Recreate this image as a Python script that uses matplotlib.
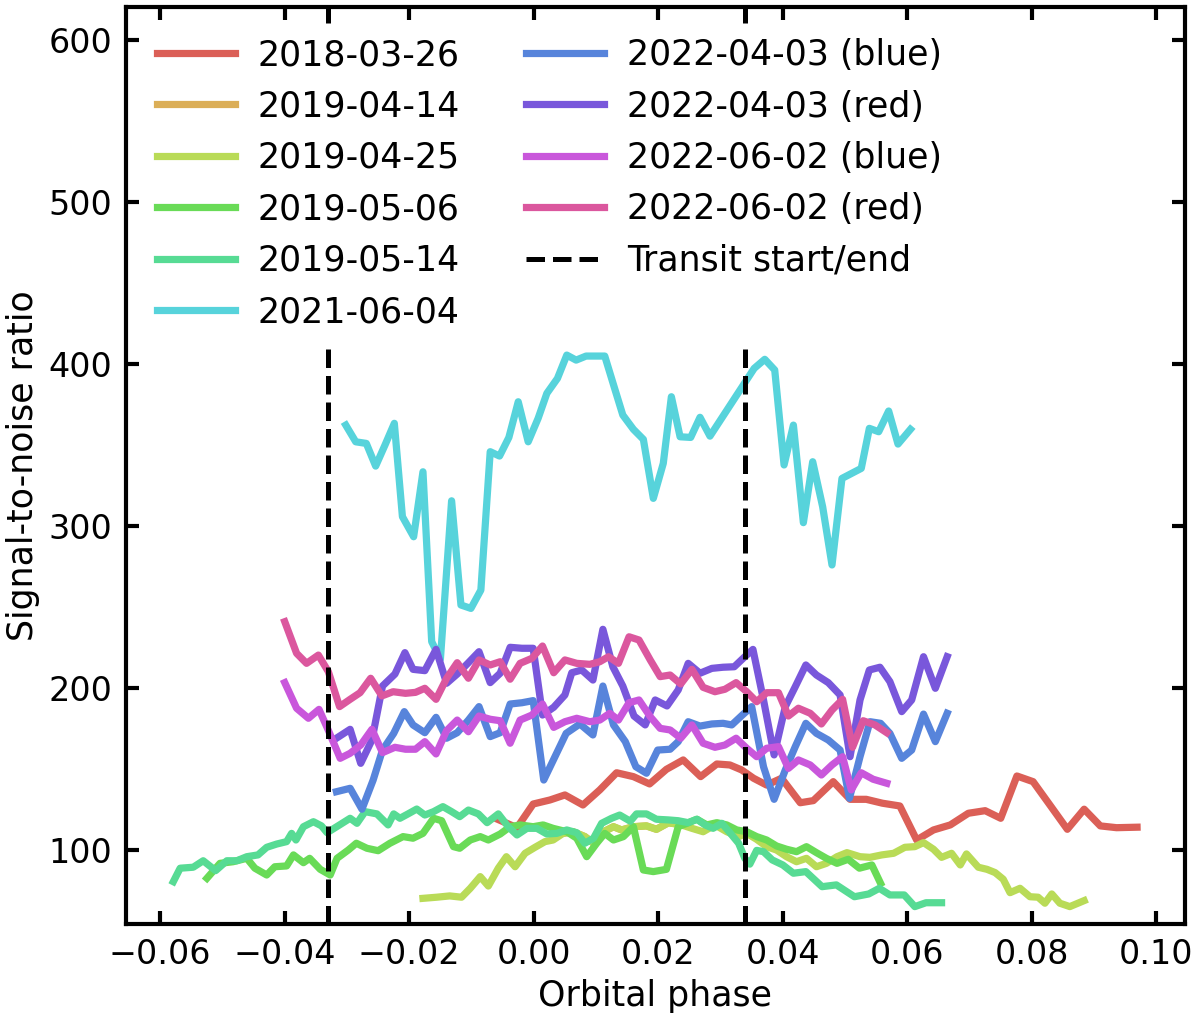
import colorsys
import numpy as np
import matplotlib
matplotlib.use("Agg")
import matplotlib.pyplot as plt

# ---------------- data (orbital phase, S/N) ----------------
labels = ["2018-03-26", "2019-04-14", "2019-04-25", "2019-05-06", "2019-05-14",
          "2021-06-04", "2022-04-03 (blue)", "2022-04-03 (red)",
          "2022-06-02 (blue)", "2022-06-02 (red)"]

snr_2018_03_26 = np.array([
    [-0.0057, 119.0], [-0.0027, 114.0], [-0.0001, 128.6], [0.0026, 131.1], [0.0050, 134.2],
    [0.0079, 128.0], [0.0106, 137.3], [0.0133, 147.9], [0.0160, 145.5], [0.0186, 141.0],
    [0.0213, 150.0], [0.0240, 155.8], [0.0268, 145.5], [0.0294, 153.3], [0.0315, 152.7],
    [0.0334, 149.6], [0.0353, 144.5], [0.0374, 140.3], [0.0398, 144.5], [0.0428, 129.4],
    [0.0449, 130.7], [0.0481, 142.4], [0.0508, 131.5], [0.0534, 131.5], [0.0560, 129.1],
    [0.0588, 127.4], [0.0615, 106.4], [0.0642, 112.6], [0.0669, 115.7], [0.0698, 122.9],
    [0.0725, 124.5], [0.0750, 119.8], [0.0776, 145.9], [0.0802, 142.4], [0.0829, 128.0],
    [0.0857, 113.0], [0.0884, 125.4], [0.0910, 115.1], [0.0936, 114.0], [0.0969, 114.3]])

snr_2019_04_14 = np.array([
    [0.0047, 110.5], [0.0063, 111.5], [0.0082, 108.5], [0.0096, 104.4], [0.0112, 111.5],
    [0.0128, 114.6], [0.0141, 112.6], [0.0160, 114.6], [0.0181, 115.1], [0.0197, 113.0],
    [0.0216, 117.0], [0.0235, 116.0]])

snr_2019_04_25 = np.array([
    [-0.0178, 70.4], [-0.0156, 71.1], [-0.0135, 71.9], [-0.0116, 71.1], [-0.0102, 76.6],
    [-0.0086, 83.8], [-0.0073, 78.0], [-0.0057, 89.0], [-0.0044, 96.1], [-0.0030, 89.9],
    [-0.0014, 98.2], [0.0002, 101.9], [0.0018, 105.4], [0.0031, 106.4], [0.0047, 110.5],
    [0.0063, 111.5], [0.0082, 108.5], [0.0096, 104.4], [0.0112, 111.5], [0.0128, 114.6],
    [0.0141, 112.6], [0.0160, 114.6], [0.0181, 115.1], [0.0197, 113.0], [0.0216, 117.0],
    [0.0235, 116.0], [0.0254, 113.6], [0.0272, 111.5], [0.0291, 115.7], [0.0310, 111.5],
    [0.0329, 108.5], [0.0342, 110.5], [0.0358, 106.8], [0.0374, 102.3], [0.0390, 100.2],
    [0.0406, 96.1], [0.0422, 93.0], [0.0438, 95.1], [0.0454, 89.9], [0.0470, 92.0],
    [0.0487, 96.1], [0.0503, 98.6], [0.0524, 96.1], [0.0540, 95.7], [0.0559, 97.2],
    [0.0578, 98.2], [0.0596, 101.9], [0.0612, 102.3], [0.0626, 104.8], [0.0642, 100.7],
    [0.0655, 95.7], [0.0671, 98.2], [0.0685, 91.0], [0.0695, 97.8], [0.0714, 89.6],
    [0.0728, 88.3], [0.0741, 86.3], [0.0754, 82.2], [0.0765, 73.9], [0.0781, 76.6],
    [0.0797, 71.4], [0.0810, 71.1], [0.0821, 67.4], [0.0832, 73.1], [0.0845, 67.4],
    [0.0861, 65.3], [0.0884, 69.0]])

snr_2019_05_06 = np.array([
    [-0.0525, 82.8], [-0.0504, 92.0], [-0.0483, 93.0], [-0.0461, 95.1], [-0.0448, 89.0],
    [-0.0429, 84.8], [-0.0416, 89.9], [-0.0397, 90.4], [-0.0386, 97.2], [-0.0370, 92.4],
    [-0.0360, 95.1], [-0.0343, 88.3], [-0.0327, 84.8], [-0.0316, 95.1], [-0.0298, 100.2],
    [-0.0285, 104.4], [-0.0268, 101.3], [-0.0250, 99.8], [-0.0231, 104.4], [-0.0210, 108.5],
    [-0.0194, 107.5], [-0.0178, 110.5], [-0.0161, 119.8], [-0.0148, 118.3], [-0.0129, 102.3],
    [-0.0119, 101.3], [-0.0102, 106.4], [-0.0086, 108.5], [-0.0073, 106.4], [-0.0054, 110.1],
    [-0.0038, 114.6], [-0.0022, 115.7], [-0.0001, 114.6], [0.0015, 115.7], [0.0031, 113.6],
    [0.0053, 111.5], [0.0069, 107.5], [0.0085, 96.1], [0.0101, 104.4], [0.0114, 110.5],
    [0.0128, 106.4], [0.0144, 108.5], [0.0160, 114.6], [0.0176, 87.9], [0.0192, 86.9],
    [0.0213, 88.3], [0.0232, 114.6], [0.0246, 116.7], [0.0262, 119.2], [0.0278, 115.7],
    [0.0294, 117.1], [0.0310, 115.7], [0.0326, 112.6], [0.0342, 111.5], [0.0358, 108.5],
    [0.0374, 106.4], [0.0390, 102.7], [0.0406, 100.7], [0.0422, 99.2], [0.0438, 102.3],
    [0.0454, 98.6], [0.0470, 95.1], [0.0487, 92.0], [0.0505, 94.5], [0.0523, 89.0],
    [0.0543, 91.0], [0.0557, 79.7]])

snr_2019_05_14 = np.array([
    [-0.0579, 80.7], [-0.0568, 89.0], [-0.0547, 89.6], [-0.0531, 93.6], [-0.0511, 87.5],
    [-0.0493, 93.6], [-0.0477, 93.6], [-0.0461, 96.1], [-0.0443, 97.2], [-0.0429, 101.9],
    [-0.0413, 103.9], [-0.0397, 105.4], [-0.0389, 110.5], [-0.0382, 106.4], [-0.0370, 114.6],
    [-0.0354, 117.7], [-0.0341, 115.1], [-0.0332, 110.9], [-0.0312, 115.7], [-0.0295, 119.8],
    [-0.0284, 116.7], [-0.0271, 123.9], [-0.0252, 122.5], [-0.0234, 115.7], [-0.0225, 122.5],
    [-0.0215, 119.8], [-0.0202, 122.5], [-0.0188, 125.5], [-0.0175, 121.8], [-0.0161, 123.9],
    [-0.0146, 127.0], [-0.0132, 123.9], [-0.0119, 120.8], [-0.0105, 124.9], [-0.0089, 122.5],
    [-0.0075, 117.1], [-0.0057, 122.5], [-0.0041, 114.6], [-0.0027, 109.5], [-0.0011, 113.6],
    [0.0005, 113.6], [0.0021, 110.1], [0.0037, 110.5], [0.0053, 112.6], [0.0069, 110.9],
    [0.0082, 104.4], [0.0096, 107.5], [0.0109, 116.7], [0.0125, 119.8], [0.0138, 121.8],
    [0.0155, 118.0], [0.0165, 122.5], [0.0181, 122.5], [0.0197, 119.2], [0.0216, 118.8],
    [0.0232, 118.3], [0.0248, 117.1], [0.0262, 119.2], [0.0275, 115.7], [0.0288, 113.6],
    [0.0302, 116.7], [0.0315, 110.9], [0.0329, 104.4], [0.0339, 95.1], [0.0347, 91.5],
    [0.0358, 100.0], [0.0369, 99.2], [0.0383, 94.1], [0.0400, 91.0], [0.0417, 85.9],
    [0.0437, 86.9], [0.0463, 77.6], [0.0486, 78.7], [0.0515, 71.4], [0.0538, 73.1],
    [0.0555, 76.6], [0.0572, 72.5], [0.0595, 72.5], [0.0612, 65.3], [0.0630, 67.7],
    [0.0655, 67.7]])

snr_2021_06_04 = np.array([
    [-0.0302, 362.4], [-0.0286, 352.1], [-0.0269, 351.1], [-0.0254, 337.1], [-0.0239, 350.1],
    [-0.0224, 363.5], [-0.0211, 305.9], [-0.0193, 293.5], [-0.0178, 333.6], [-0.0164, 228.8],
    [-0.0150, 218.0], [-0.0132, 315.7], [-0.0117, 251.4], [-0.0101, 249.3], [-0.0085, 260.6],
    [-0.0070, 346.0], [-0.0055, 343.3], [-0.0040, 354.8], [-0.0025, 376.8], [-0.0009, 352.1],
    [0.0007, 366.6], [0.0021, 382.0], [0.0038, 391.2], [0.0053, 405.6], [0.0068, 402.5],
    [0.0084, 405.0], [0.0099, 405.0], [0.0114, 405.0], [0.0129, 386.1], [0.0143, 368.6],
    [0.0160, 359.8], [0.0176, 353.6], [0.0192, 317.2], [0.0208, 338.8], [0.0221, 379.9],
    [0.0235, 355.2], [0.0252, 354.8], [0.0267, 367.2], [0.0283, 355.6], [0.0354, 397.4],
    [0.0371, 403.0], [0.0387, 396.4], [0.0402, 337.8], [0.0417, 362.4], [0.0433, 302.2],
    [0.0448, 339.8], [0.0464, 312.0], [0.0479, 276.1], [0.0495, 329.5], [0.0526, 335.7],
    [0.0539, 360.4], [0.0554, 358.3], [0.0570, 371.1], [0.0585, 350.7], [0.0605, 359.8]])

snr_2022_04_03_blue = np.array([
    [-0.0317, 136.2], [-0.0295, 138.3], [-0.0276, 125.4], [-0.0258, 143.4], [-0.0243, 161.9],
    [-0.0225, 172.2], [-0.0208, 185.6], [-0.0194, 177.4], [-0.0175, 172.6], [-0.0157, 182.1],
    [-0.0140, 169.2], [-0.0123, 172.6], [-0.0105, 180.4], [-0.0088, 188.7], [-0.0070, 170.2],
    [-0.0054, 172.6], [-0.0038, 190.3], [-0.0019, 191.1], [-0.0001, 192.4], [0.0016, 143.4],
    [0.0034, 157.8], [0.0052, 172.2], [0.0074, 178.0], [0.0095, 171.2], [0.0111, 201.4],
    [0.0128, 177.4], [0.0147, 167.1], [0.0164, 151.6], [0.0181, 147.6], [0.0199, 161.9],
    [0.0219, 162.4], [0.0232, 167.1], [0.0248, 179.4], [0.0267, 176.7], [0.0286, 178.0],
    [0.0304, 178.4], [0.0318, 177.4], [0.0335, 183.5], [0.0350, 188.7], [0.0369, 151.6],
    [0.0386, 131.5], [0.0404, 149.6], [0.0420, 164.0], [0.0437, 178.4], [0.0454, 172.2],
    [0.0473, 168.1], [0.0492, 161.9], [0.0507, 132.1], [0.0524, 157.8], [0.0540, 179.4],
    [0.0557, 178.4], [0.0572, 172.2], [0.0591, 156.8], [0.0607, 161.9], [0.0626, 184.1],
    [0.0645, 167.1], [0.0664, 184.6]])

snr_2022_04_03_red = np.array([
    [-0.0317, 169.2], [-0.0295, 174.7], [-0.0278, 153.7], [-0.0260, 168.1], [-0.0243, 201.4],
    [-0.0223, 208.8], [-0.0207, 222.0], [-0.0194, 211.7], [-0.0175, 210.9], [-0.0157, 224.0],
    [-0.0140, 203.1], [-0.0123, 208.8], [-0.0105, 215.8], [-0.0088, 222.6], [-0.0070, 203.5],
    [-0.0054, 209.3], [-0.0038, 225.3], [-0.0019, 224.7], [-0.0001, 224.7], [0.0014, 183.5],
    [0.0032, 188.3], [0.0050, 195.9], [0.0061, 209.6], [0.0077, 211.3], [0.0095, 205.1],
    [0.0111, 236.4], [0.0127, 213.3], [0.0143, 201.4], [0.0161, 182.9], [0.0179, 177.4],
    [0.0195, 192.8], [0.0214, 189.1], [0.0232, 199.0], [0.0248, 215.4], [0.0267, 209.3],
    [0.0286, 212.3], [0.0304, 213.0], [0.0322, 213.3], [0.0339, 219.5], [0.0352, 224.0],
    [0.0369, 192.8], [0.0386, 158.9], [0.0404, 188.7], [0.0420, 201.0], [0.0437, 214.4],
    [0.0454, 208.2], [0.0473, 203.5], [0.0492, 195.9], [0.0508, 157.8], [0.0524, 192.8],
    [0.0539, 211.3], [0.0556, 213.0], [0.0572, 204.1], [0.0591, 185.6], [0.0607, 192.8],
    [0.0626, 219.5], [0.0645, 200.0], [0.0664, 219.5]])

snr_2022_06_02_blue = np.array([
    [-0.0400, 203.5], [-0.0381, 187.7], [-0.0362, 181.5], [-0.0345, 187.0], [-0.0329, 173.2],
    [-0.0311, 156.8], [-0.0295, 159.9], [-0.0278, 165.0], [-0.0260, 174.7], [-0.0243, 160.3],
    [-0.0223, 163.6], [-0.0206, 162.4], [-0.0190, 162.4], [-0.0175, 167.1], [-0.0157, 159.5],
    [-0.0140, 173.9], [-0.0123, 180.4], [-0.0105, 173.2], [-0.0088, 182.9], [-0.0070, 180.9],
    [-0.0054, 180.0], [-0.0038, 166.1], [-0.0022, 180.4], [-0.0003, 183.5], [0.0014, 190.3],
    [0.0032, 175.9], [0.0050, 179.4], [0.0069, 181.5], [0.0090, 179.4], [0.0106, 180.4],
    [0.0122, 184.6], [0.0136, 180.4], [0.0153, 191.1], [0.0169, 192.8], [0.0187, 182.5],
    [0.0203, 175.3], [0.0219, 174.3], [0.0236, 169.2], [0.0254, 177.4], [0.0272, 166.1],
    [0.0291, 163.6], [0.0307, 165.0], [0.0325, 169.2], [0.0342, 163.0], [0.0358, 157.8],
    [0.0374, 163.0], [0.0393, 164.0], [0.0409, 150.6], [0.0425, 155.8], [0.0444, 152.7],
    [0.0462, 146.5], [0.0479, 152.7], [0.0496, 157.8], [0.0510, 137.3], [0.0526, 147.9],
    [0.0545, 143.9], [0.0567, 141.4]])

snr_2022_06_02_red = np.array([
    [-0.0400, 241.1], [-0.0381, 221.6], [-0.0365, 215.4], [-0.0346, 220.5], [-0.0330, 210.3],
    [-0.0312, 188.7], [-0.0295, 193.2], [-0.0279, 197.3], [-0.0262, 206.2], [-0.0244, 195.3],
    [-0.0226, 197.9], [-0.0206, 196.9], [-0.0190, 197.5], [-0.0175, 200.0], [-0.0157, 193.2],
    [-0.0140, 206.2], [-0.0123, 215.8], [-0.0105, 206.2], [-0.0088, 217.5], [-0.0070, 214.4],
    [-0.0054, 216.4], [-0.0038, 205.6], [-0.0022, 215.4], [-0.0003, 218.5], [0.0014, 226.1],
    [0.0032, 209.6], [0.0050, 217.5], [0.0069, 215.4], [0.0090, 214.8], [0.0106, 216.4],
    [0.0120, 219.5], [0.0136, 215.4], [0.0153, 231.8], [0.0169, 229.8], [0.0187, 217.5],
    [0.0203, 207.2], [0.0219, 208.2], [0.0236, 202.7], [0.0254, 211.7], [0.0272, 200.6],
    [0.0291, 197.9], [0.0307, 199.4], [0.0325, 203.5], [0.0342, 197.9], [0.0358, 191.7],
    [0.0374, 197.3], [0.0393, 197.3], [0.0409, 182.9], [0.0425, 187.7], [0.0444, 184.6],
    [0.0462, 178.0], [0.0479, 186.6], [0.0496, 193.2], [0.0512, 163.6], [0.0529, 180.0],
    [0.0548, 177.4], [0.0567, 172.6]])

series = [snr_2018_03_26, snr_2019_04_14, snr_2019_04_25, snr_2019_05_06, snr_2019_05_14,
          snr_2021_06_04, snr_2022_04_03_blue, snr_2022_04_03_red,
          snr_2022_06_02_blue, snr_2022_06_02_red]

transit_phases = [-0.0331, 0.0339]
xticks = [-0.06, -0.04, -0.02, 0.00, 0.02, 0.04, 0.06, 0.08, 0.10]
yticks = [100, 200, 300, 400, 500, 600]

# ---------------- colours: seaborn "hls" palette ----------------
n = len(labels)
hues = (np.linspace(0, 1, n + 1)[:-1] + 0.01) % 1
colors = [colorsys.hls_to_rgb(h, 0.6, 0.65) for h in hues]

# ---------------- figure ----------------
plt.rcParams['font.family'] = ['DejaVu Sans']
fig = plt.figure(figsize=(6, 5.12), dpi=200)
ax = fig.add_axes([0.105, 0.0977, 0.8825, 0.8955])

for data, lab, col in zip(series, labels, colors):
    ax.plot(data[:, 0], data[:, 1], color=col, lw=2.6, label=lab)

for i, xp in enumerate(transit_phases):
    ax.axvline(xp, color='black', ls='--', lw=1.8,
               label='Transit start/end' if i == 0 else None)

ax.set_xlim(-0.0655, 0.1046)
ax.set_ylim(54.6, 620.4)
ax.set_xticks(xticks)
ax.set_xticklabels([f"{t:.2f}".replace('-', '\u2212') for t in xticks])
ax.set_yticks(yticks)
ax.tick_params(direction='in', top=True, right=True, length=4.7, width=1.5,
               labelsize=12, pad=5)
for sp in ax.spines.values():
    sp.set_linewidth(1.5)

ax.set_xlabel("Orbital phase", fontsize=12.5, labelpad=3)
ax.set_ylabel("Signal-to-noise ratio", fontsize=12.5, labelpad=3)

leg = ax.legend(loc='upper left', ncol=2, fontsize=12.5, frameon=True,
                framealpha=1.0, facecolor='white', edgecolor='white',
                handlelength=2.25, handletextpad=0.65, columnspacing=1.9,
                labelspacing=0.5, borderaxespad=0.5, borderpad=0.4)
leg.get_frame().set_linewidth(0)

fig.savefig("out.png", dpi=200)
